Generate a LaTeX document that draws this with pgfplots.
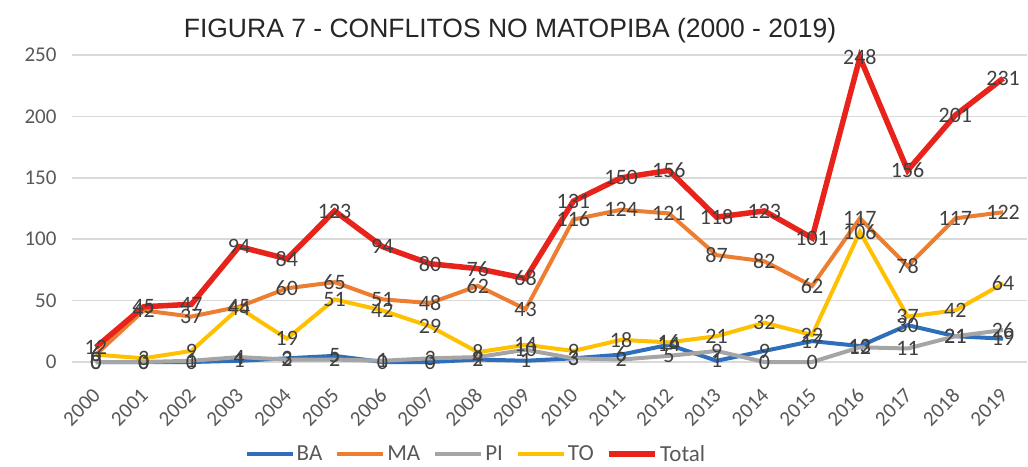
\documentclass[border=0pt]{standalone}
\usepackage{pgfplots}
\usepackage{pgfplotstable}
\pgfplotsset{compat=1.18}
\usepackage{fontspec}
\setmainfont{Carlito}
\newfontfamily\arialfont{Liberation Sans}
\definecolor{cBA}{HTML}{2F6EBA}
\definecolor{cMA}{HTML}{ED7D31}
\definecolor{cPI}{HTML}{A5A5A5}
\definecolor{cTO}{HTML}{FFC000}
\definecolor{cTot}{HTML}{E8231B}
\definecolor{lab}{HTML}{404040}
\definecolor{tickc}{HTML}{595959}
\definecolor{gridc}{HTML}{D9D9D9}
\pgfplotstableread{
year BA MA PI TO Total
2000 0 6 0 6 12
2001 0 42 0 3 45
2002 0 37 1 9 47
2003 1 45 4 44 94
2004 3 60 2 19 84
2005 5 65 2 51 123
2006 0 51 1 42 94
2007 0 48 3 29 80
2008 2 62 4 8 76
2009 1 43 10 14 68
2010 3 116 3 9 131
2011 6 124 2 18 150
2012 14 121 5 16 156
2013 1 87 9 21 118
2014 9 82 0 32 123
2015 17 62 0 22 101
2016 13 117 12 106 248
2017 30 78 11 37 156
2018 21 117 21 42 201
2019 19 122 26 64 231
}\data
\begin{document}
\begin{tikzpicture}
\useasboundingbox (-72pt,-104pt) rectangle (956pt,362pt);
\begin{axis}[
  at={(0pt,0pt)}, anchor=south west,
  scale only axis, width=955pt, height=307pt,
  xmin=1999.5, xmax=2019.5, ymin=0, ymax=250,
  clip=false,
  xtick={2000,...,2019}, ytick={0,50,...,250},
  /pgf/number format/1000 sep={},
  /pgf/number format/assume math mode=true,
  axis line style={draw=none},
  major tick length=0pt,
  ymajorgrids, grid style={gridc, line width=1.5pt},
  xticklabel style={xshift=1pt, yshift=-30pt, rotate=45, anchor=east, inner sep=0pt, font=\fontsize{21}{21}\selectfont, text=tickc},
  yticklabel style={font=\fontsize{21}{21}\selectfont, text=tickc, xshift=-12pt},
  legend columns=5,
  legend style={at={(0.423,-0.30)}, anchor=center, draw=none, fill=none,
    font=\fontsize{23}{23}\selectfont, text=tickc,
    /tikz/every even column/.append style={column sep=11pt}},
  legend image code/.code={\draw[#1] (0pt,0pt) -- (46pt,0pt);},
  every node near coord/.append style={anchor=center, font=\fontsize{22}{22}\selectfont, text=lab},
]
\addplot[cBA, line width=4pt, mark=none] table[x=year, y=BA] {\data};
\addlegendentry{BA}
\addplot[cMA, line width=4pt, mark=none] table[x=year, y=MA] {\data};
\addlegendentry{MA}
\addplot[cPI, line width=4pt, mark=none] table[x=year, y=PI] {\data};
\addlegendentry{PI}
\addplot[cTO, line width=4pt, mark=none] table[x=year, y=TO] {\data};
\addlegendentry{TO}
\addplot[cTot, line width=5.5pt, mark=none] table[x=year, y=Total] {\data};
\addlegendentry{Total}
\addplot[draw=none, mark=none, forget plot, nodes near coords] table[x=year, y=BA] {\data};
\addplot[draw=none, mark=none, forget plot, nodes near coords] table[x=year, y=MA] {\data};
\addplot[draw=none, mark=none, forget plot, nodes near coords] table[x=year, y=PI] {\data};
\addplot[draw=none, mark=none, forget plot, nodes near coords] table[x=year, y=TO] {\data};
\addplot[draw=none, mark=none, forget plot, nodes near coords] table[x=year, y=Total] {\data};
\end{axis}
\node[font=\arialfont\fontsize{26.5}{26.5}\selectfont, text=black!85] at (438pt,331pt) {FIGURA 7 - CONFLITOS NO MATOPIBA (2000 - 2019)};
\end{tikzpicture}
\end{document}
